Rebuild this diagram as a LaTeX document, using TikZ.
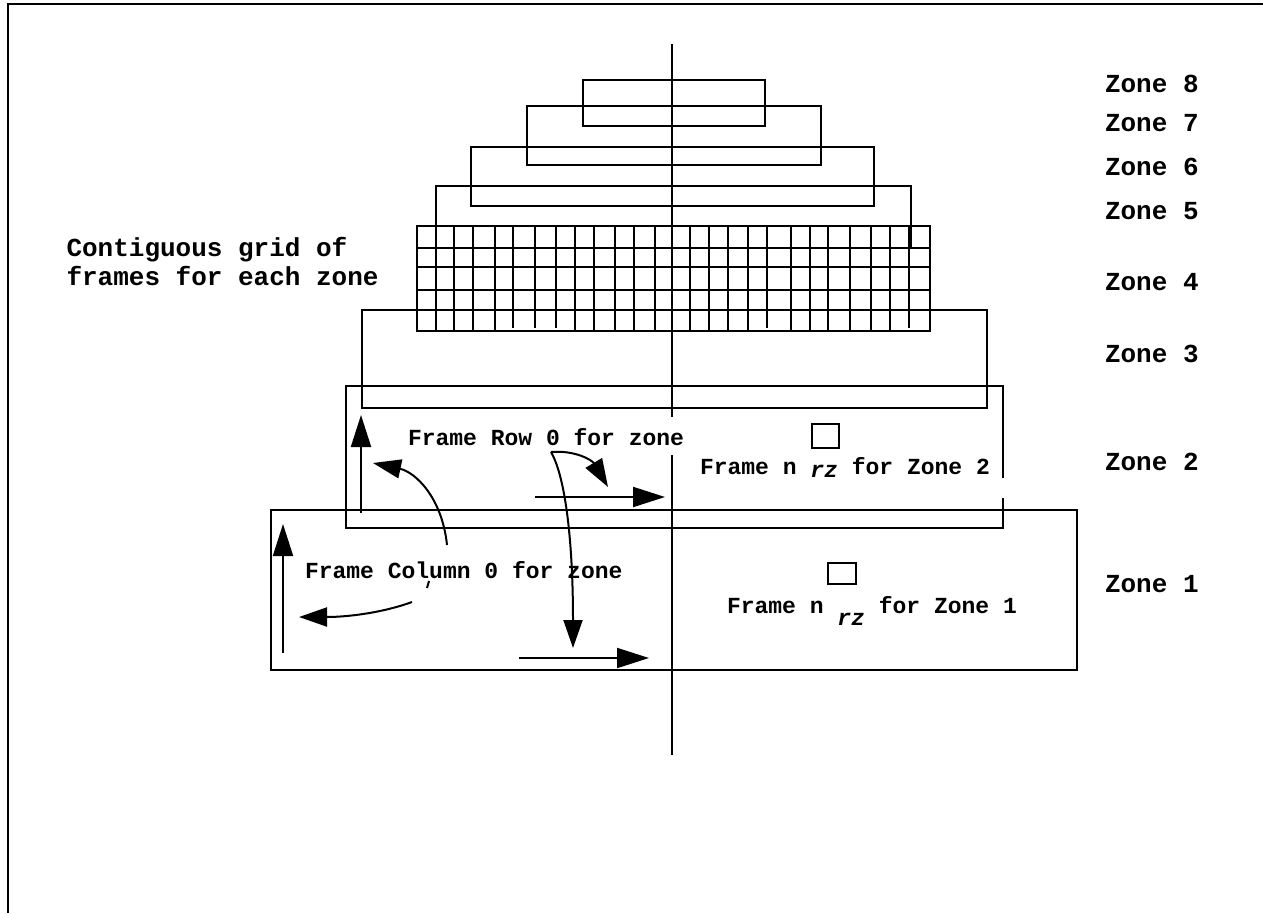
\documentclass[tikz,border=0pt]{standalone}
\usepackage{fontspec}
\setmonofont{Liberation Mono}
\usetikzlibrary{arrows.meta}
\begin{document}
\begin{tikzpicture}[x=1pt,y=-1pt,line width=2pt,
  zlabel/.style={font=\ttfamily\bfseries\fontsize{26}{30}\selectfont, inner sep=0pt, anchor=base west},
  ftext/.style={font=\ttfamily\bfseries\fontsize{23}{27}\selectfont, inner sep=0pt, anchor=base west},
  arr/.style={-{Triangle[length=32pt,width=20pt]}},
  carr/.style={-{Triangle[length=28pt,width=19pt]}}]
\useasboundingbox (0,0) rectangle (1263,913);
% outer frame
\draw (7.7,913) -- (7.7,4.3) -- (1263,4.3);
% axis with gap
\draw (672,44) -- (672,417);
\draw (672,455) -- (672,755);
% zone rectangles
\draw (583.3,80) rectangle (765,125.7);
\draw (526.7,106) rectangle (821,165.3);
\draw (471,146.7) rectangle (874,205.7);
\draw (436,186) rectangle (911,247.6);
\draw (362,309.7) rectangle (987,407.5);
\draw (1002.7,478) -- (1002.7,386) -- (345.5,386) -- (345.5,528) -- (1002.7,528) -- (1002.7,498);
\draw (271,510) rectangle (1077,670);
% grid (zone 4)
\draw (417.2,226) rectangle (930,331);
\foreach \yy in {247.6,266.6,290,309.7} \draw (417.2,\yy) -- (930,\yy);
\foreach \xx in {435.5,454.1,473.1,494.8,575.2,593.8,614.5,633.8,655.2,689.7,708.6,727.6,747.6,791.4,810.3,827.6,850,870.7,889.7} \draw (\xx,226) -- (\xx,331);
\foreach \xx in {512.8,534.5,555.9,766.6,908.6} \draw (\xx,226) -- (\xx,327.6);
% small frames
\draw (812,424) rectangle (839,448);
\draw (828,563) rectangle (856,584);
% straight arrows
\coordinate (c2a) at (361,513); \coordinate (c2b) at (361,415);
\coordinate (c1a) at (283,653); \coordinate (c1b) at (283,524);
\coordinate (r2a) at (535,497); \coordinate (r2b) at (665,497);
\coordinate (r1a) at (519,658); \coordinate (r1b) at (649,658);
\draw[arr] (c2a) -- (c2b);
\draw[arr] (c1a) -- (c1b);
\draw[arr] (r2a) -- (r2b);
\draw[arr] (r1a) -- (r1b);
% curved arrows
\coordinate (rowsrc) at (551,452);
\draw[carr] (rowsrc) .. controls (575,450) and (592,460) .. (608,487);
\draw[carr] (rowsrc) .. controls (566,478) and (573,545) .. (573,648);
\draw[carr] (447,545) .. controls (442,497) and (415,472) .. (373,463);
\draw[carr] (412,602) .. controls (385,612) and (350,617) .. (299,617);
\draw (429,581) -- (427,588);
% labels
\node[zlabel] (z8) at (1104,92) {Zone 8};
\node[zlabel] (z7) at (1104,131.7) {Zone 7};
\node[zlabel] (z6) at (1104,175) {Zone 6};
\node[zlabel] (z5) at (1104,219.3) {Zone 5};
\node[zlabel] (z4) at (1104,290) {Zone 4};
\node[zlabel] (z3) at (1104,362) {Zone 3};
\node[zlabel] (z2) at (1104,470) {Zone 2};
\node[zlabel] (z1) at (1104,592) {Zone 1};
\node[zlabel] (g1) at (65.5,256.7) {Contiguous grid of};
\node[zlabel] (g2) at (65.5,285) {frames for each zone};
\node[ftext] (frow) at (407,445) {Frame Row 0 for zone};
\node[ftext] (fcol) at (304,578) {Frame Column 0 for zone};
\node[ftext] (fn2) at (699,474) {Frame n \raisebox{-3pt}{\itshape rz} for Zone 2};
\node[ftext] (fn1) at (726,613) {Frame n \raisebox{-12pt}{\itshape rz} for Zone 1};
\end{tikzpicture}
\end{document}
